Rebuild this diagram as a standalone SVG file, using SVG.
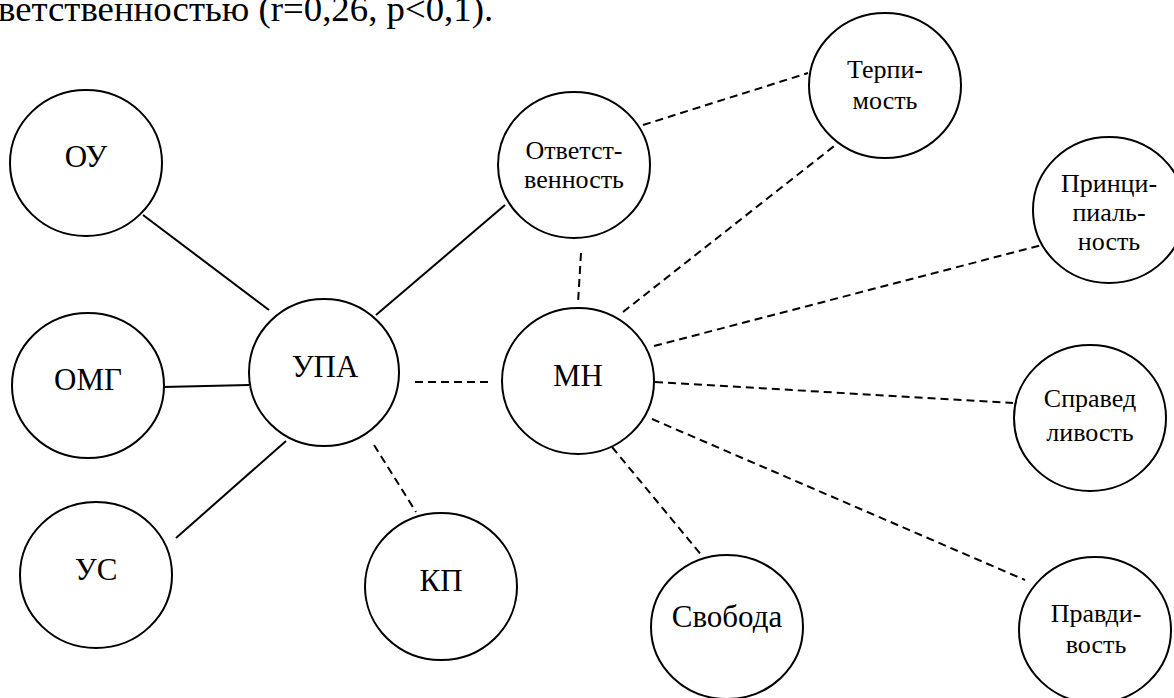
<svg xmlns="http://www.w3.org/2000/svg" width="1174" height="698" viewBox="0 0 1174 698" font-family="'Liberation Serif', 'Times New Roman', serif">
  <style>
    .node ellipse { fill: #fff; stroke: #000; stroke-width: 2; }
    text { font-family: 'Liberation Serif', 'Times New Roman', serif; fill: #000; }
    .big { font-size: 31px; text-anchor: middle; }
    .small { font-size: 26px; text-anchor: middle; }
    .body { font-size: 36.8px; }
    .solid { stroke: #000; stroke-width: 2; fill: none; }
    .dash { stroke: #000; stroke-width: 2; fill: none; stroke-dasharray: 8 5; }
  </style>
  <rect width="1174" height="698" fill="#fff"/>

  <!-- tail of the preceding paragraph line -->
  <text class="body" x="-2" y="21">ветственностью (r=0,26, p&lt;0,1).</text>

  <g id="connectors">
    <line class="solid" x1="143" y1="215" x2="269" y2="310"/>
    <line class="solid" x1="163" y1="387" x2="249" y2="385"/>
    <line class="solid" x1="176" y1="538" x2="286" y2="441"/>
    <line class="solid" x1="376" y1="315" x2="505" y2="205"/>
    <line class="dash" x1="415" y1="382" x2="493" y2="382"/>
    <line class="dash" x1="374" y1="445" x2="416" y2="512"/>
    <line class="dash" x1="581" y1="253" x2="578" y2="303"/>
    <line class="dash" x1="643" y1="125" x2="808" y2="73"/>
    <line class="dash" x1="623" y1="312" x2="838" y2="143"/>
    <line class="dash" x1="654" y1="346" x2="1042" y2="245"/>
    <line class="dash" x1="655" y1="382" x2="1013" y2="403"/>
    <line class="dash" x1="652" y1="419" x2="1025" y2="580"/>
    <line class="dash" x1="612" y1="447" x2="703" y2="557"/>
  </g>

  <g id="node-ou" class="node">
    <ellipse cx="86" cy="163" rx="76" ry="73"/>
    <text class="big" x="86" y="167">ОУ</text>
  </g>
  <g id="node-omg" class="node">
    <ellipse cx="88" cy="385.5" rx="76" ry="72.5"/>
    <text class="big" x="88" y="390">ОМГ</text>
  </g>
  <g id="node-us" class="node">
    <ellipse cx="96" cy="575" rx="76" ry="73"/>
    <text class="big" x="96" y="580">УС</text>
  </g>
  <g id="node-upa" class="node">
    <ellipse cx="324" cy="372.5" rx="75" ry="73.5"/>
    <text class="big" x="325" y="377">УПА</text>
  </g>
  <g id="node-kp" class="node">
    <ellipse cx="441" cy="586.5" rx="76" ry="73.5"/>
    <text class="big" x="441" y="591">КП</text>
  </g>
  <g id="node-otv" class="node">
    <ellipse cx="574" cy="165" rx="76" ry="73"/>
    <text class="small" x="574" y="159">Ответст-</text>
    <text class="small" x="574" y="188">венность</text>
  </g>
  <g id="node-mn" class="node">
    <ellipse cx="578" cy="381" rx="76" ry="73"/>
    <text class="big" x="578" y="386">МН</text>
  </g>
  <g id="node-terp" class="node">
    <ellipse cx="885" cy="85.5" rx="76" ry="72.5"/>
    <text class="small" x="885" y="78">Терпи-</text>
    <text class="small" x="885" y="109">мость</text>
  </g>
  <g id="node-princ" class="node">
    <ellipse cx="1109" cy="210" rx="76" ry="73"/>
    <text class="small" x="1109" y="192">Принци-</text>
    <text class="small" x="1109" y="221">пиаль-</text>
    <text class="small" x="1109" y="250">ность</text>
  </g>
  <g id="node-sprav" class="node">
    <ellipse cx="1090" cy="418" rx="76" ry="73"/>
    <text class="small" x="1090" y="407">Справед</text>
    <text class="small" x="1090" y="441">ливость</text>
  </g>
  <g id="node-svob" class="node">
    <ellipse cx="727" cy="627" rx="76" ry="72"/>
    <text class="big" x="727" y="627">Свобода</text>
  </g>
  <g id="node-pravd" class="node">
    <ellipse cx="1095" cy="630" rx="76" ry="73"/>
    <text class="small" x="1096" y="622">Правди-</text>
    <text class="small" x="1096" y="653">вость</text>
  </g>
</svg>
